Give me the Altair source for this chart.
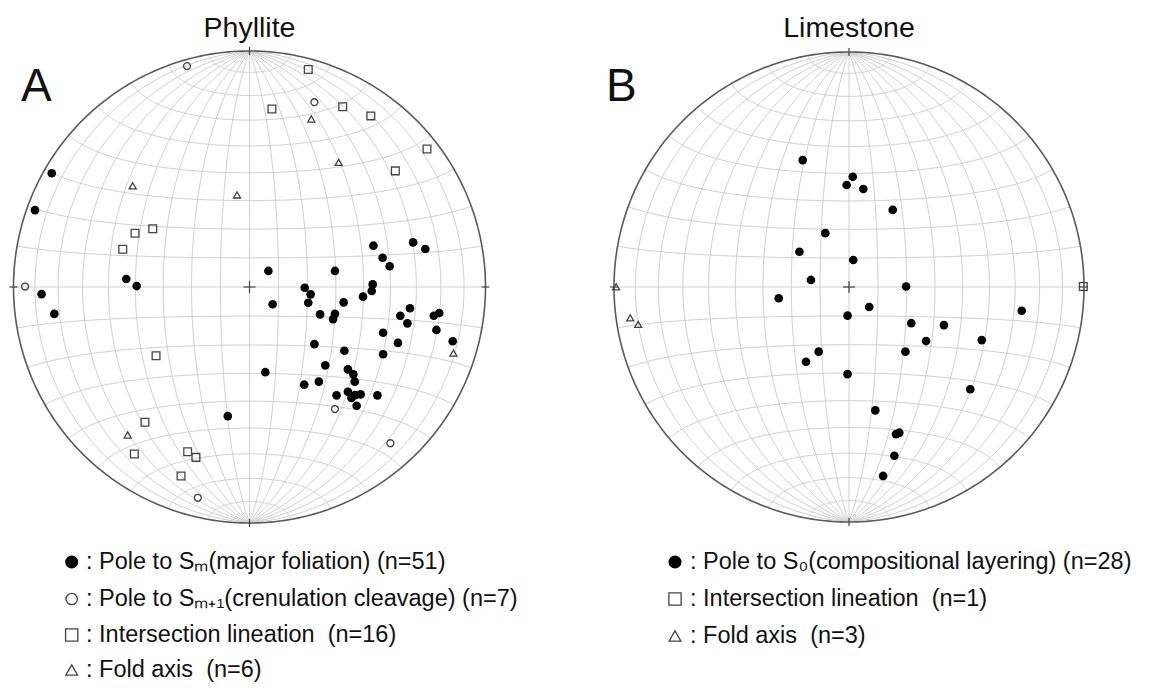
import numpy as np
import pandas as pd
import altair as alt

# ---------------- data: positions on the net (unit radius, +x = E, +y = N) ----------------
# A  Phyllite
A_foliation_x = [0.525, 0.693, 0.745, 0.564, 0.594, 0.080, 0.362, 0.234, 0.259, 0.249,
                 0.522, 0.518, 0.481, 0.098, 0.399, 0.299, 0.362, 0.354, 0.680, 0.639,
                 0.669, 0.781, 0.804, 0.792, 0.566, 0.629, 0.861, 0.275, 0.402, 0.566,
                 0.321, 0.067, 0.417, 0.440, 0.446, 0.294, 0.232, 0.369, 0.417, 0.447,
                 0.471, 0.542, 0.454, -0.838, -0.909, -0.522, -0.478, -0.881, -0.827, -0.092,
                 0.432]
A_foliation_y = [0.175, 0.189, 0.161, 0.124, 0.088, 0.068, 0.068, -0.003, -0.031, -0.067,
                 0.011, -0.017, -0.041, -0.073, -0.065, -0.116, -0.114, -0.136, -0.090, -0.122,
                 -0.154, -0.122, -0.110, -0.182, -0.194, -0.237, -0.230, -0.242, -0.270, -0.285,
                 -0.332, -0.361, -0.349, -0.370, -0.401, -0.401, -0.414, -0.459, -0.444, -0.458,
                 -0.455, -0.459, -0.503, 0.482, 0.326, 0.034, 0.004, -0.030, -0.114, -0.547,
                 -0.470]
A_crenulation_x = [-0.265, 0.275, -0.951, -0.219, 0.362, 0.597]
A_crenulation_y = [0.936, 0.783, 0.002, -0.893, -0.517, -0.662]
A_intersection_x = [0.249, 0.095, 0.395, 0.514, 0.752, 0.618, -0.410, -0.485, -0.537,
                    -0.396, -0.443, -0.488, -0.262, -0.227, -0.290]
A_intersection_y = [0.922, 0.754, 0.764, 0.725, 0.585, 0.492, 0.247, 0.228, 0.160,
                    -0.291, -0.573, -0.708, -0.698, -0.722, -0.801]
A_fold_x = [-0.495, -0.053, 0.262, 0.378, -0.516, 0.864]
A_fold_y = [0.429, 0.390, 0.712, 0.528, -0.627, -0.280]

# B  Limestone
B_layering_x = [-0.197, 0.016, -0.010, 0.061, 0.186, -0.101, -0.211, 0.018, -0.162, 0.243,
                -0.299, 0.086, -0.006, 0.735, 0.265, 0.404, 0.328, 0.565, -0.129, -0.183,
                0.240, -0.006, 0.516, 0.112, 0.200, 0.214, 0.193, 0.145]
B_layering_y = [0.540, 0.469, 0.434, 0.417, 0.328, 0.229, 0.150, 0.115, 0.030, 0.002,
                -0.048, -0.085, -0.122, -0.101, -0.154, -0.162, -0.230, -0.226, -0.275, -0.318,
                -0.275, -0.371, -0.435, -0.525, -0.626, -0.620, -0.718, -0.804]
B_intersection_x = [0.997]
B_intersection_y = [0.002]
B_fold_x = [-0.991, -0.931, -0.897]
B_fold_y = [0.001, -0.131, -0.159]

# titles / legend texts
NB = "\u00a0"
A_title, B_title = "Phyllite", "Limestone"
A_letter, B_letter = "A", "B"
A_legend = [": Pole to S\u2098(major foliation) (n=51)",
            ": Pole to S\u2098\u208a\u2081(crenulation cleavage) (n=7)",
            ": Intersection lineation" + NB + NB + "(n=16)",
            ": Fold axis" + NB + NB + "(n=6)"]
B_legend = [": Pole to S\u2080(compositional layering) (n=28)",
            ": Intersection lineation" + NB + NB + "(n=1)",
            ": Fold axis" + NB + NB + "(n=3)"]

# ---------------- styling ----------------
FONT = "Liberation Sans Narrow, Arial Narrow, Liberation Sans, Arial, sans-serif"
GRID = "#cfcfcf"
EDGE = "#5a5a5a"
one = pd.DataFrame({"a": [0]})


def net_grid():
    """Equal-area (Schmidt) net: great and small circles every 10 degrees."""
    rows, lid = [], 0
    t = np.linspace(-90, 90, 181)
    for lam0 in range(-80, 90, 10):
        lam, phi = np.radians(lam0), np.radians(t)
        k = np.sqrt(2 / (1 + np.cos(phi) * np.cos(lam)))
        xs = k * np.cos(phi) * np.sin(lam) / np.sqrt(2)
        ys = k * np.sin(phi) / np.sqrt(2)
        rows += [{"id": lid, "i": i, "x": a, "y": b} for i, (a, b) in enumerate(zip(xs, ys))]
        lid += 1
    for phi0 in range(-80, 90, 10):
        lam, phi = np.radians(t), np.radians(phi0)
        k = np.sqrt(2 / (1 + np.cos(phi) * np.cos(lam)))
        xs = k * np.cos(phi) * np.sin(lam) / np.sqrt(2)
        ys = k * np.sin(phi) / np.sqrt(2)
        rows += [{"id": lid, "i": i, "x": a, "y": b} for i, (a, b) in enumerate(zip(xs, ys))]
        lid += 1
    return pd.DataFrame(rows)


def primitive():
    t = np.radians(np.linspace(0, 360, 361))
    return pd.DataFrame({"i": range(len(t)), "x": np.cos(t), "y": np.sin(t)})


def pm(shape, filled, size):
    if filled:
        return dict(shape=shape, filled=True, color="black", size=size, opacity=1)
    return dict(shape=shape, filled=False, color="#444", strokeWidth=1.3, size=size, opacity=1)


def panel(W, H, cx, cy, R, pts, title, letter, title_x, letter_x, legend, sym_x, text_x, rows):
    xs = alt.Scale(domain=[-cx / R, (W - cx) / R], nice=False, zero=False)
    ys = alt.Scale(domain=[(cy - H) / R, cy / R], nice=False, zero=False)
    X = lambda f: alt.X(f, type="quantitative", scale=xs, axis=None)
    Y = lambda f: alt.Y(f, type="quantitative", scale=ys, axis=None)

    grid = alt.Chart(net_grid()).mark_line(color=GRID, strokeWidth=1).encode(
        x=X("x"), y=Y("y"), detail="id:N", order="i:Q")
    circ = alt.Chart(primitive()).mark_line(color=EDGE, strokeWidth=1.6).encode(
        x=X("x"), y=Y("y"), order="i:Q")
    c, d = 6 / R, 4 / R
    segs = pd.DataFrame({
        "x": [-c, 0, 0, 0, 1 - d, -1 - d], "x2": [c, 0, 0, 0, 1 + d, -1 + d],
        "y": [0, -c, 1 - d, -1 - d, 0, 0], "y2": [0, c, 1 + d, -1 + d, 0, 0]})
    ticks = alt.Chart(segs).mark_rule(color="#444", strokeWidth=1.2).encode(
        x=X("x"), x2="x2", y=Y("y"), y2="y2")
    layers = [grid, circ, ticks]

    for p in pts:
        df = pd.DataFrame({"x": p[0], "y": p[1]})
        layers.append(alt.Chart(df).mark_point(**pm(p[2], p[3], p[4])).encode(x=X("x"), y=Y("y")))

    layers.append(alt.Chart(one).mark_text(text=title, font=FONT, fontSize=28.5, align="center",
                                           baseline="alphabetic", color="#111").encode(
        x=alt.value(title_x), y=alt.value(29)))
    layers.append(alt.Chart(one).mark_text(text=letter, font=FONT, fontSize=46, align="left",
                                           baseline="alphabetic", color="#111").encode(
        x=alt.value(letter_x), y=alt.value(93)))
    for txt, p, ry in zip(legend, pts, rows):
        layers.append(alt.Chart(one).mark_point(**pm(p[2], p[3], p[5])).encode(
            x=alt.value(sym_x), y=alt.value(ry)))
        layers.append(alt.Chart(one).mark_text(text=txt, font=FONT, fontSize=23.5, align="left",
                                               baseline="middle", color="#111").encode(
            x=alt.value(text_x), y=alt.value(ry)))
    return alt.layer(*layers).properties(width=W, height=H)


A_pts = [
    (A_foliation_x, A_foliation_y, "circle", True, 75, 170),
    (A_crenulation_x, A_crenulation_y, "circle", False, 48, 130),
    (A_intersection_x, A_intersection_y, "square", False, 60, 150),
    (A_fold_x, A_fold_y, "triangle-up", False, 50, 140),
]
B_pts = [
    (B_layering_x, B_layering_y, "circle", True, 75, 170),
    (B_intersection_x, B_intersection_y, "square", False, 60, 150),
    (B_fold_x, B_fold_y, "triangle-up", False, 50, 140),
]

H = 666
chartA = panel(540, H, 240.5, 279, 236, A_pts, A_title, A_letter, 240.5, 12,
               A_legend, 62.7, 77, [554, 591, 627, 662])
chartB = panel(560, H, 260, 279, 235, B_pts, B_title, B_letter, 260, 17,
               B_legend, 86, 101, [554, 591, 628])

chart = alt.hconcat(chartA, chartB, spacing=40).properties(padding=0).configure_view(stroke=None)
chart.save("out.html", embed_options={"renderer": "svg", "actions": False})
